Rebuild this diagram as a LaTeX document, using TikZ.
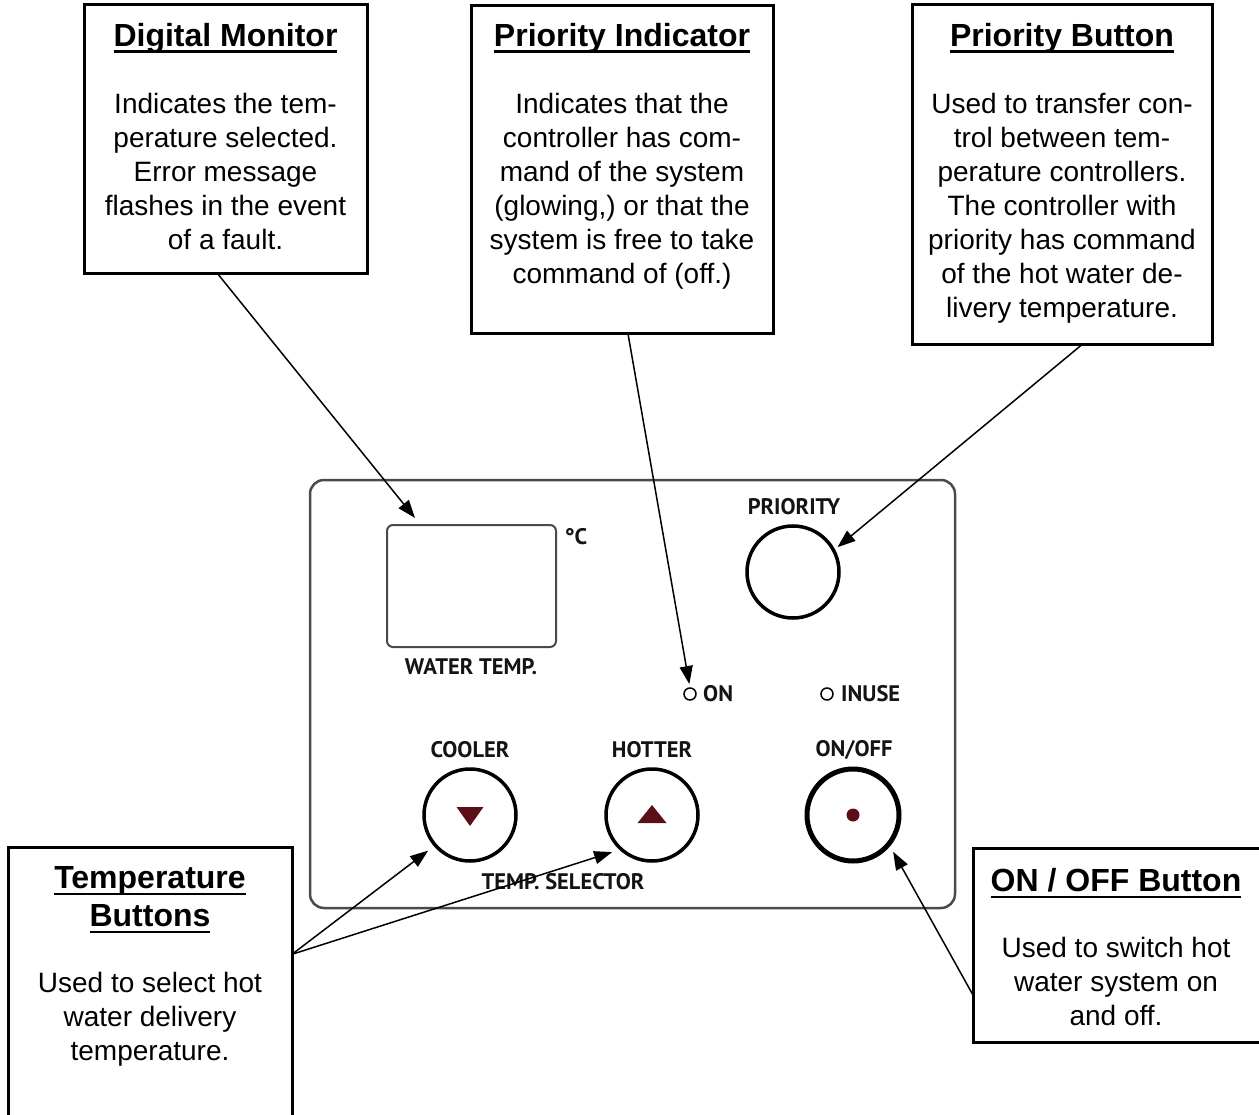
\documentclass[tikz,border=0pt]{standalone}
\usepackage{fontspec}
\setmainfont{Liberation Sans}
\newfontfamily\pnlfont{PT Sans}
\usetikzlibrary{calc,arrows.meta}
\definecolor{maroon}{HTML}{5A1016}
\definecolor{pgray}{HTML}{4A4A4A}
\newcommand\ulin[1]{\setbox0\hbox{#1}\rlap{\rule[-6.5pt]{\wd0}{2.5pt}}\box0}
\tikzset{
  box/.style={draw, line width=3pt, inner sep=0pt, outer sep=0pt},
  body/.style={font=\fontsize{28}{34}\selectfont, align=center, inner sep=0pt, anchor=north},
  ttl/.style={font=\fontsize{32}{38}\selectfont\bfseries, inner sep=0pt, anchor=base},
  arr/.style={-{Triangle[length=18pt,width=13pt]}, line width=1.5pt},
  pnl/.style={font=\pnlfont\fontsize{22.5}{26}\selectfont\bfseries, inner sep=0pt, text=black!92},
  btn/.style={circle, draw, line width=3.5pt, minimum size=92pt, inner sep=0pt, outer sep=0pt},
  led/.style={circle, draw, line width=1.5pt, minimum size=12pt, inner sep=0pt, outer sep=0pt}
}
\begin{document}
\begin{tikzpicture}[x=1pt,y=-1pt]
\useasboundingbox (0,0) rectangle (1259,1115);
% ---------- panel ----------
\node[draw=pgray, line width=2.5pt, rounded corners=14pt, minimum width=645pt, minimum height=428pt, inner sep=0pt, outer sep=0pt] (panel) at (632.5,694) {};
\node[draw=pgray, line width=2pt, rounded corners=6pt, minimum width=169pt, minimum height=122pt, inner sep=0pt, outer sep=0pt] (disp) at (471.5,586) {};
\node[pnl] (degc) at (576,537) {°C};
\node[pnl] (wt) at (471,667) {WATER TEMP.};
\node[pnl] (prl) at (794,507) {PRIORITY};
\node[btn] (prio) at (793,572) {};
\node[led] (onled) at (690,694) {};
\node[pnl, anchor=west] (ont) at (703,694) {ON};
\node[led] (useled) at (827,694) {};
\node[pnl, anchor=west] (uset) at (841,694) {INUSE};
\node[pnl] (cl) at (470,750) {COOLER};
\node[pnl] (hl) at (652,750) {HOTTER};
\node[pnl] (ol) at (854,750) {ON/OFF};
\node[btn] (cool) at (470,815) {};
\node[btn] (hot) at (652,815) {};
\node[btn, line width=5pt] (onoff) at (853,815) {};
\fill[maroon] ($(cool)+(-13.5,-8)$) -- ($(cool)+(13.5,-8)$) -- ($(cool)+(0,11)$) -- cycle;
\fill[maroon] ($(hot)+(-14.5,8)$) -- ($(hot)+(14.5,8)$) -- ($(hot)+(0,-10)$) -- cycle;
\fill[maroon] (onoff) circle (6.5pt);
\node[pnl] (ts) at (563,882) {TEMP. SELECTOR};
% ---------- callout boxes ----------
\node[box, minimum width=283pt, minimum height=269pt] (dm) at (225.5,139.5) {};
\node[ttl] (dmt) at (225.5,46.5) {\ulin{Digital Monitor}};
\node[body] (dmb) at (225.5,93) {Indicates the tem-\\perature selected.\\Error message\\flashes in the event\\of a fault.};

\node[box, minimum width=302pt, minimum height=328pt] (pi) at (622,170) {};
\node[ttl] (pit) at (622,46.5) {\ulin{Priority Indicator}};
\node[body] (pib) at (622,93) {Indicates that the\\controller has com-\\mand of the system\\(glowing,) or that the\\system is free to take\\command of (off.)};

\node[box, minimum width=300pt, minimum height=340pt] (pb) at (1062,175) {};
\node[ttl] (pbt) at (1062,46.5) {\ulin{Priority Button}};
\node[body] (pbb) at (1062,93) {Used to transfer con-\\trol between tem-\\perature controllers.\\The controller with\\priority has command\\of the hot water de-\\livery temperature.};

\node[box, minimum width=284pt, minimum height=290pt] (tb) at (150,992) {};
\node[ttl] (tbt1) at (150,888.5) {\ulin{Temperature}};
\node[ttl] (tbt2) at (150,926.5) {\ulin{Buttons}};
\node[body] (tbb) at (150,972) {Used to select hot\\water delivery\\temperature.};

\node[box, minimum width=290pt, minimum height=194pt] (ob) at (1118,945) {};
\node[ttl] (obt) at (1116,891.5) {\ulin{ON / OFF Button}};
\node[body] (obb) at (1116,937) {Used to switch hot\\water system on\\and off.};
% ---------- connectors ----------
\draw[arr] ($(dm.south west)!0.473!(dm.south east)$) -- ($(disp.north west)+(28,-7)$);
\draw[arr, shorten >=4pt] ($(pi.south west)!0.52!(pi.south east)$) -- (onled.north);
\draw[arr, shorten >=5pt] ($(pb.south west)!0.565!(pb.south east)$) -- (prio.28);
\draw[arr, shorten >=9pt] ($(tb.north east)!0.37!(tb.south east)$) -- (cool.221);
\draw[arr, shorten >=9.5pt] ($(tb.north east)!0.37!(tb.south east)$) -- (hot.228);
\draw[arr, shorten >=9pt] ($(ob.north west)!0.758!(ob.south west)$) -- (onoff.-39);
\end{tikzpicture}
\end{document}
